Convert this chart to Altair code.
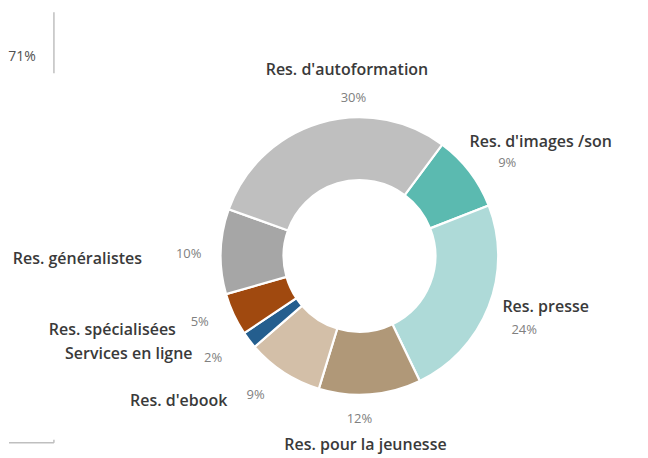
import math
import altair as alt
import pandas as pd

# ---- data ----
categories = ["Res. d'images /son", "Res. presse", "Res. pour la jeunesse", "Res. d'ebook",
              "Services en ligne", "Res. spécialisées", "Res. généralistes", "Res. d'autoformation"]
values = [9, 24, 12, 9, 2, 5, 10, 30]
colors = ["#5BBAB0", "#AEDAD8", "#B09878", "#D3BFA8", "#245E8E", "#A0490F", "#A6A6A6", "#BFBFBF"]
side_value = "71%"

# ---- layout (view pixels) ----
CX, CY = 351, 248
R_OUT, R_IN = 139, 76
START = math.radians(36.6)
name_pos = [(532.5, 134), (537.5, 299), (357, 437.5), (170, 393), (120, 346), (103.5, 322), (68.5, 251), (338.5, 62)]
pct_pos = [(499, 155), (516, 322), (351, 411), (247, 387), (204.5, 350), (191, 314), (180, 246), (345, 90)]

df = pd.DataFrame({"cat": categories, "value": values, "order": list(range(len(values)))})
df["pct"] = [f"{v}%" for v in values]

arcs = alt.Chart(df).mark_arc(outerRadius=R_OUT, innerRadius=R_IN, stroke="white", strokeWidth=2.2).encode(
    theta=alt.Theta("value:Q", stack=True, scale=alt.Scale(range=[START, START + 2 * math.pi])),
    order=alt.Order("order:Q"),
    color=alt.Color("cat:N", scale=alt.Scale(domain=categories, range=colors), legend=None),
    x=alt.value(CX), y=alt.value(CY),
)

lab = df.copy()
lab["nx"] = [p[0] for p in name_pos]
lab["ny"] = [p[1] for p in name_pos]
lab["px"] = [p[0] for p in pct_pos]
lab["py"] = [p[1] for p in pct_pos]

names = alt.Chart(lab).mark_text(font="Open Sans", fontSize=16, fontWeight=600, color="#3a3a3a",
                                 baseline="middle").encode(
    x=alt.X("nx:Q", scale=None), y=alt.Y("ny:Q", scale=None), text="cat:N")
pcts = alt.Chart(lab).mark_text(font="Open Sans", fontSize=13, color="#808080", baseline="middle").encode(
    x=alt.X("px:Q", scale=None), y=alt.Y("py:Q", scale=None), text="pct:N")

side = alt.Chart(pd.DataFrame({"t": [side_value]})).mark_text(
    font="Open Sans", fontSize=14, color="#505050", baseline="middle").encode(
    x=alt.value(13), y=alt.value(49), text="t:N")
vline = alt.Chart(pd.DataFrame({"a": [0]})).mark_rule(color="#BFBFBF", strokeWidth=1.5).encode(
    x=alt.value(45), y=alt.value(4), y2=alt.value(65))
hline = alt.Chart(pd.DataFrame({"a": [0]})).mark_rule(color="#BFBFBF", strokeWidth=1.5).encode(
    x=alt.value(0), x2=alt.value(45), y=alt.value(435))
tick = alt.Chart(pd.DataFrame({"a": [0]})).mark_rule(color="#BFBFBF", strokeWidth=1.5).encode(
    x=alt.value(45), y=alt.value(432), y2=alt.value(435))

chart = alt.layer(arcs, names, pcts, side, vline, hline, tick).properties(
    width=632, height=442, padding=0, background="white"
).configure_view(stroke=None)

chart.save("out.html", embed_options={"renderer": "svg", "actions": False})
